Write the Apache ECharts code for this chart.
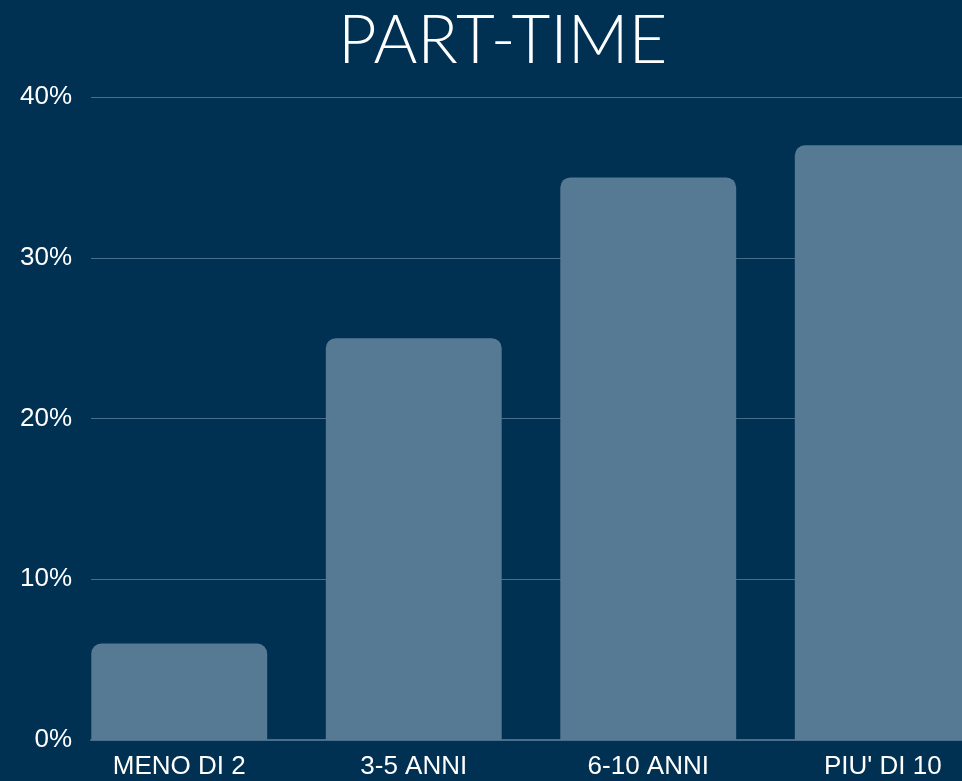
<!DOCTYPE html>
<html>
<head>
<meta charset="utf-8">
<script src="https://cdn.jsdelivr.net/npm/echarts@6/dist/echarts.min.js"></script>
<style>
html, body { margin: 0; padding: 0; background: #003052; }
#main { width: 962px; height: 781px; }
</style>
</head>
<body>
<div id="main"></div>
<script>
// categorie e valori (percentuali)
var categories = ['MENO DI 2', '3-5 ANNI', '6-10 ANNI', "PIU' DI 10"];
var values = [6, 25, 35, 37];
var yMin = 0;
var yMax = 40;
var yStep = 10;

var myChart = echarts.init(document.getElementById('main'));
var option = {
	backgroundColor: '#003052',
	title: {
		text: 'PART-TIME',
		left: 333,
		top: 3,
		textStyle: {
			color: '#ffffff',
			fontSize: 67,
			fontWeight: 300,
			fontFamily: 'Lato'
		}
	},
	grid: [
		// griglia per le linee orizzontali e le etichette
		{ left: 91, top: 97, width: 880, height: 643, outerBoundsMode: 'none' },
		// griglia per le barre
		{ left: 62, top: 97, width: 938, height: 643, outerBoundsMode: 'none' }
	],
	xAxis: [
		{
			gridIndex: 0,
			type: 'category',
			data: categories,
			axisLine: { show: true, lineStyle: { color: '#4b6e8b', width: 2 } },
			axisTick: { show: false },
			axisLabel: { show: false }
		},
		{
			gridIndex: 1,
			type: 'category',
			data: categories,
			axisLine: { show: false },
			axisTick: { show: false },
			axisLabel: {
				color: '#ffffff',
				fontSize: 26,
				fontFamily: 'Liberation Sans',
				margin: 14
			}
		}
	],
	yAxis: [
		{
			gridIndex: 0,
			type: 'value',
			min: yMin,
			max: yMax,
			interval: yStep,
			axisLine: { show: false },
			axisTick: { show: false },
			axisLabel: {
				color: '#ffffff',
				fontSize: 26,
				fontFamily: 'Liberation Sans',
				margin: 19,
				formatter: '{value}%'
			},
			splitLine: { lineStyle: { color: '#4a6d8a', width: 1 } }
		},
		{
			gridIndex: 1,
			type: 'value',
			min: yMin,
			max: yMax,
			interval: yStep,
			show: false,
			splitLine: { show: false }
		}
	],
	series: [{
		type: 'bar',
		xAxisIndex: 1,
		yAxisIndex: 1,
		data: values,
		barWidth: '75%',
		itemStyle: {
			color: '#567a93',
			borderRadius: [10, 10, 0, 0]
		}
	}]
};
myChart.setOption(option);
</script>
</body>
</html>
